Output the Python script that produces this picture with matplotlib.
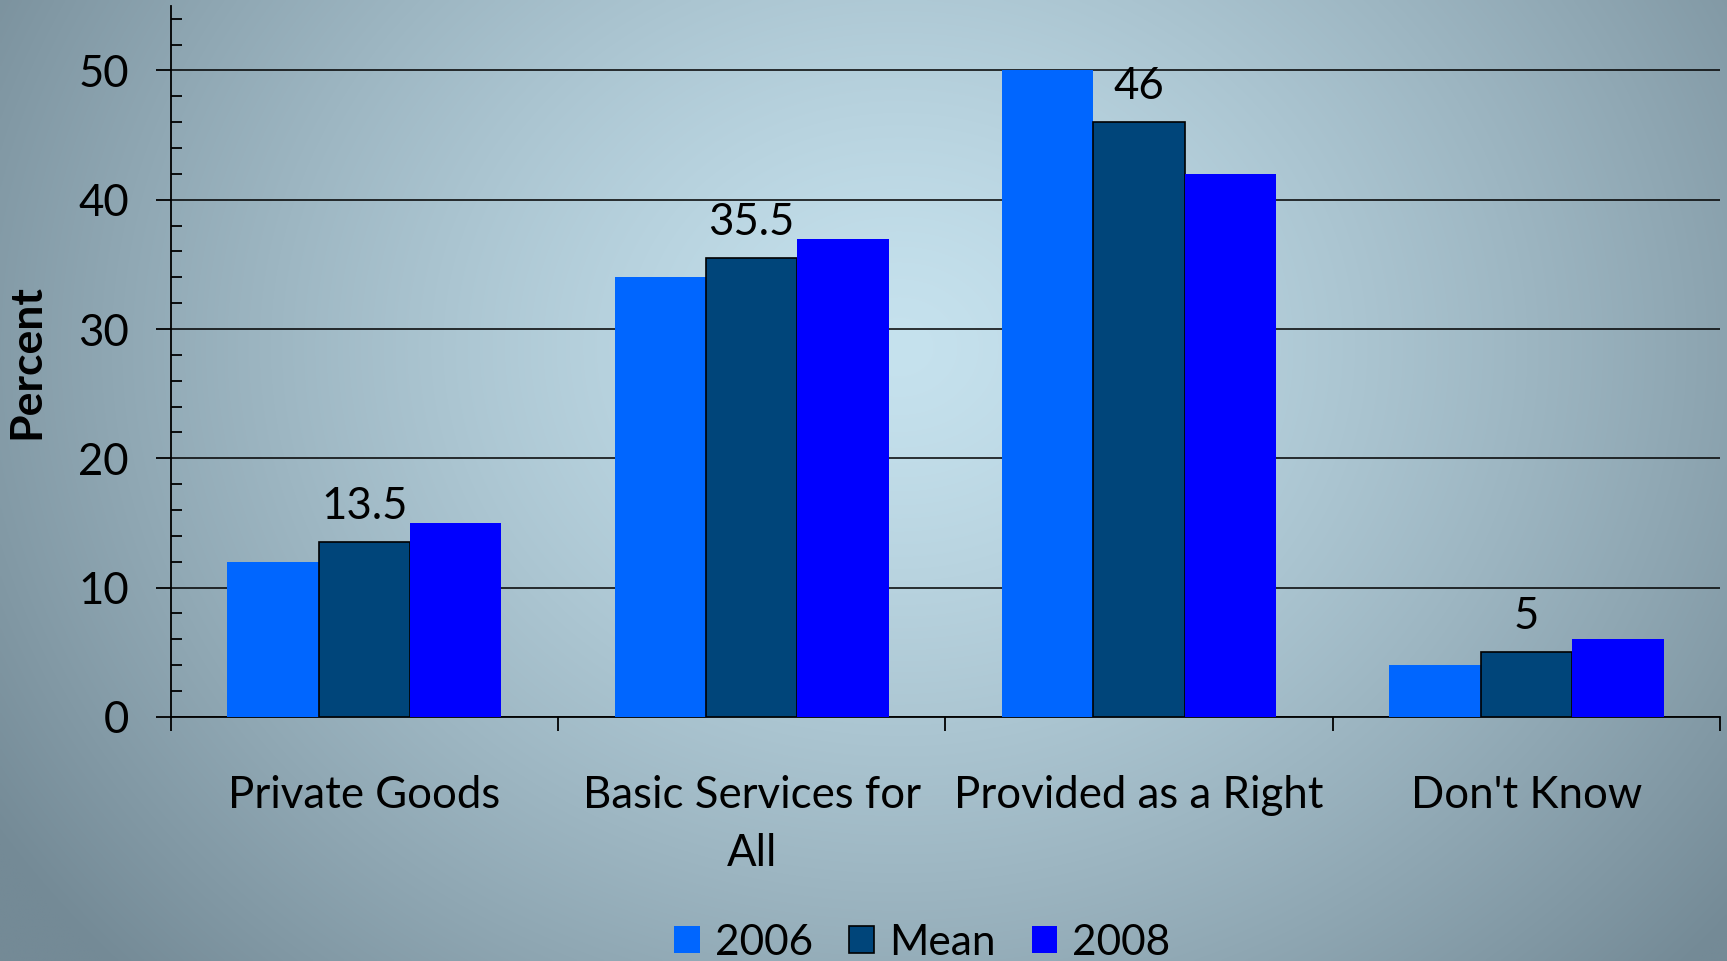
import numpy as np
import matplotlib
matplotlib.use("Agg")
import matplotlib.pyplot as plt
from matplotlib.patches import Patch
from matplotlib.ticker import MultipleLocator, FixedLocator

plt.rcParams["font.family"] = ["Lato", "DejaVu Sans"]

# ---- data ----
categories = ["Private Goods", "Basic Services for\nAll", "Provided as a Right", "Don't Know"]
series_names = ["2006", "Mean", "2008"]
vals_2006 = [12, 34, 50, 4]
vals_mean = [13.5, 35.5, 46, 5]
vals_2008 = [15, 37, 42, 6]

COLORS = {"2006": "#0066FF", "Mean": "#00457A", "2008": "#0000FF"}
FS = 31.5

fig = plt.figure(figsize=(17.27, 9.61), dpi=100)

# radial backdrop, light in the upper middle, slate-grey toward the corners
bg = fig.add_axes([0, 0, 1, 1], zorder=-10)
h, w = 400, 720
yy, xx = np.mgrid[0:h, 0:w]
cx, cy = 0.52 * w, 0.36 * h
r = np.sqrt(((xx - cx) / (0.62 * w)) ** 2 + ((yy - cy) / (0.95 * h)) ** 2)
f = np.clip(r, 0, 1) ** 1.3
c_in = np.array([198, 226, 238]) / 255.0
c_out = np.array([116, 138, 150]) / 255.0
img = c_in[None, None, :] * (1 - f[..., None]) + c_out[None, None, :] * f[..., None]
bg.imshow(img, aspect="auto", extent=[0, 1, 0, 1], interpolation="bilinear")
bg.axis("off")

ax = fig.add_axes([0.0988, 0.254, 0.8972, 0.740])
ax.set_facecolor("none")

x = np.arange(len(categories))
bw = 0.236
ax.bar(x - bw, vals_2006, bw, color=COLORS["2006"], zorder=3, label="2006")
ax.bar(x, vals_mean, bw, color=COLORS["Mean"], edgecolor="black", linewidth=1.2,
       zorder=3, label="Mean")
ax.bar(x + bw, vals_2008, bw, color=COLORS["2008"], zorder=3, label="2008")

for xi, v in zip(x, vals_mean):
    ax.annotate(f"{v:g}", (xi, v), xytext=(0, 11), textcoords="offset points",
                ha="center", va="bottom", fontsize=FS)

ax.set_xlim(-0.5, 3.5)
ax.set_ylim(0, 55)

# y axis: majors outward with gridlines, minors inward
ax.yaxis.set_major_locator(FixedLocator([0, 10, 20, 30, 40, 50]))
ax.yaxis.set_minor_locator(MultipleLocator(2))
ax.tick_params(axis="y", which="major", direction="out", length=11, width=1.3,
               pad=19, labelsize=FS)
ax.tick_params(axis="y", which="minor", direction="in", length=8, width=1.3)
ax.grid(axis="y", which="major", color="black", linewidth=1.1, zorder=0)

# x axis: tick marks at group boundaries, labels at group centres
ax.xaxis.set_major_locator(FixedLocator([-0.5, 0.5, 1.5, 2.5, 3.5]))
ax.xaxis.set_major_formatter(plt.NullFormatter())
ax.xaxis.set_minor_locator(FixedLocator(x))
ax.set_xticklabels(categories, minor=True)
ax.tick_params(axis="x", which="major", direction="out", length=10, width=1.3)
ax.tick_params(axis="x", which="minor", length=0, pad=42, labelsize=FS)
for t in ax.get_xticklabels(minor=True):
    t.set_linespacing(1.5)
    t.set_verticalalignment("top")

for s in ("top", "right"):
    ax.spines[s].set_visible(False)
for s in ("left", "bottom"):
    ax.spines[s].set_linewidth(1.3)

ax.set_ylabel("Percent", fontsize=32, fontweight="bold")
ax.yaxis.set_label_coords(-0.080, 0.50)

handles = [Patch(facecolor=COLORS[n], edgecolor="black" if n == "Mean" else COLORS[n],
                 linewidth=1.2 if n == "Mean" else 0, label=n) for n in series_names]
fig.legend(handles=handles, loc="center", bbox_to_anchor=(0.534, 0.019), ncol=3,
           frameon=False, fontsize=30.5, handlelength=0.6, handleheight=0.6,
           handletextpad=0.35, columnspacing=0.85)

fig.savefig("out.png", dpi=100)
